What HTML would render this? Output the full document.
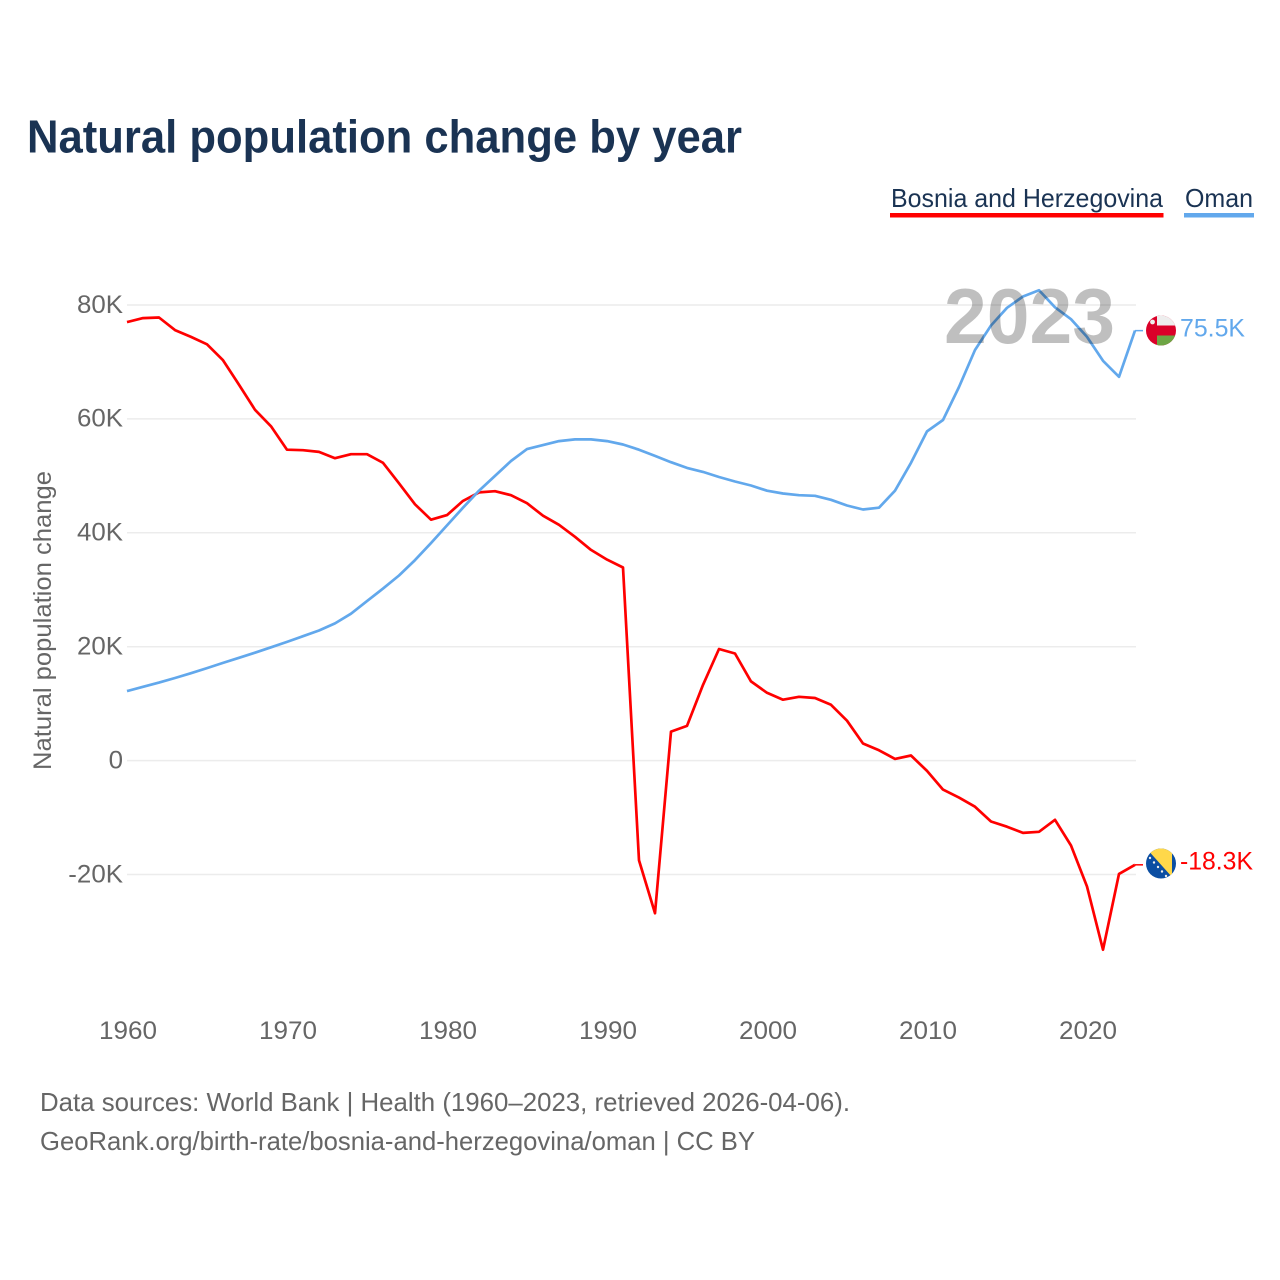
<!DOCTYPE html>
<html lang="en">
<head>
<meta charset="utf-8">
<title>Natural population change by year</title>
<style>
html,body{margin:0;padding:0;background:#fff;}
svg{display:block;font-family:"Liberation Sans",sans-serif;}
</style>
</head>
<body>
<svg id="chart" xmlns="http://www.w3.org/2000/svg" width="1280" height="1280" viewBox="0 0 1280 1280">
  <rect x="0" y="0" width="1280" height="1280" fill="#fff"/>
  <text x="27" y="152.5" font-size="46" font-weight="700" fill="#1a3353" textLength="715" lengthAdjust="spacingAndGlyphs">Natural population change by year</text>

  <g>
    <g>
      <text x="891" y="207" font-size="26" fill="#1a3353" textLength="272" lengthAdjust="spacingAndGlyphs">Bosnia and Herzegovina</text>
      <rect x="890" y="213" width="273.5" height="4.5" fill="#ff0000"/>
    </g>
    <g>
      <text x="1185" y="207" font-size="26" fill="#1a3353" textLength="68" lengthAdjust="spacingAndGlyphs">Oman</text>
      <rect x="1184" y="213" width="70" height="4.5" fill="#62a8ec"/>
    </g>
  </g>

  <g id="grid"></g>
  <g id="yticks"></g>
  <g id="xticks"></g>
  <text transform="translate(51,770) rotate(-90)" x="0" y="0" font-size="25" fill="#666666" textLength="299" lengthAdjust="spacingAndGlyphs">Natural population change</text>
  <g id="series"></g>
  <text x="944" y="343" font-size="78" font-weight="700" fill="#000000" fill-opacity="0.25" textLength="171" lengthAdjust="spacingAndGlyphs">2023</text>

  <g>
    <clipPath id="clip-oman"><circle cx="1161" cy="330.5" r="15"/></clipPath>
    <g clip-path="url(#clip-oman)">
      <rect x="1146" y="315" width="30" height="31" fill="#db0029"/>
      <rect x="1157" y="315" width="19" height="10.5" fill="#eeeeee"/>
      <rect x="1157" y="335.5" width="19" height="10.5" fill="#6da544"/>
      <circle cx="1152.5" cy="322" r="2.4" fill="#eeeeee"/>
    </g>
    <text x="1180" y="336.5" font-size="25" fill="#62a8ec" textLength="65" lengthAdjust="spacingAndGlyphs">75.5K</text>
  </g>
  <g>
    <clipPath id="clip-bosnia"><circle cx="1161" cy="863.5" r="15"/></clipPath>
    <g clip-path="url(#clip-bosnia)">
      <rect x="1146" y="848" width="30" height="31" fill="#0b4ea2"/>
      <polygon points="1146,848 1172,848 1172,877" fill="#ffd84a"/>
      <circle cx="1150" cy="858" r="1.2" fill="#eeeeee"/>
      <circle cx="1154" cy="862.5" r="1.2" fill="#eeeeee"/>
      <circle cx="1158" cy="867" r="1.2" fill="#eeeeee"/>
      <circle cx="1162" cy="871.5" r="1.2" fill="#eeeeee"/>
      <circle cx="1166" cy="876" r="1.2" fill="#eeeeee"/>
    </g>
    <text x="1180" y="869.5" font-size="25" fill="#ff0000" textLength="73" lengthAdjust="spacingAndGlyphs">-18.3K</text>
  </g>

  <text x="40" y="1111" font-size="26" fill="#666666" textLength="810" lengthAdjust="spacingAndGlyphs">Data sources: World Bank | Health (1960–2023, retrieved 2026-04-06).</text>
  <text x="40" y="1150" font-size="26" fill="#666666" textLength="715" lengthAdjust="spacingAndGlyphs">GeoRank.org/birth-rate/bosnia-and-herzegovina/oman | CC BY</text>
</svg>
<script>
const firstYear = 1960;
const lastYear = 2023;
const xTickYears = [1960, 1970, 1980, 1990, 2000, 2010, 2020];
const yTickValues = [80, 60, 40, 20, 0, -20];
const yTickLabels = ["80K", "60K", "40K", "20K", "0", "-20K"];
const bosniaValues = [77.0,77.7,77.8,75.6,74.4,73.1,70.3,66.0,61.6,58.7,54.6,54.5,54.2,53.1,53.8,53.8,52.3,48.7,45.0,42.3,43.1,45.6,47.1,47.3,46.6,45.2,43.0,41.4,39.3,37.0,35.3,33.9,-17.5,-26.8,5.1,6.1,13.3,19.6,18.8,13.9,11.9,10.7,11.2,11.0,9.8,7.0,3.0,1.8,0.3,0.9,-1.8,-5.1,-6.5,-8.1,-10.7,-11.6,-12.7,-12.5,-10.4,-14.9,-22.1,-33.2,-19.9,-18.3];
const omanValues = [12.2,12.95,13.7,14.5,15.35,16.25,17.15,18.05,18.95,19.9,20.85,21.85,22.85,24.1,25.8,28.0,30.2,32.5,35.2,38.2,41.3,44.4,47.4,50.0,52.6,54.7,55.4,56.1,56.4,56.4,56.1,55.5,54.6,53.5,52.4,51.4,50.7,49.8,49.0,48.3,47.4,46.9,46.6,46.5,45.8,44.8,44.1,44.4,47.4,52.3,57.8,59.8,65.6,72.1,76.4,79.5,81.5,82.6,79.6,77.5,74.4,70.2,67.4,75.5];

const SVG_NS = "http://www.w3.org/2000/svg";
function xScale(year) { return 127 + (year - 1960) * 16; }
function yScale(value) { return 760.6 - value * 5.695; }
function make(tag, parent) {
  const el = document.createElementNS(SVG_NS, tag);
  parent.appendChild(el);
  return el;
}

const gridGroup = document.getElementById("grid");
const yTickGroup = document.getElementById("yticks");
yTickValues.forEach(function (v, i) {
  const line = make("line", gridGroup);
  
  
  line.setAttribute("x1", xScale(firstYear));
  line.setAttribute("x2", xScale(lastYear) + 1);
  line.setAttribute("y1", yScale(v));
  line.setAttribute("y2", yScale(v));
  line.setAttribute("stroke", "#ececec");
  line.setAttribute("stroke-width", "1.5");
  const label = make("text", yTickGroup);
  
  
  label.setAttribute("x", 123);
  label.setAttribute("y", yScale(v) + 7.8);
  label.setAttribute("text-anchor", "end");
  label.setAttribute("font-size", "25");
  label.setAttribute("fill", "#666666");
  label.textContent = yTickLabels[i];
  label.setAttribute("lengthAdjust", "spacingAndGlyphs");
  label.setAttribute("textLength", (label.getComputedTextLength() * 1.035).toFixed(1));
});

const xTickGroup = document.getElementById("xticks");
xTickYears.forEach(function (year) {
  const label = make("text", xTickGroup);
  
  
  label.setAttribute("x", xScale(year) + 1);
  label.setAttribute("y", 1039);
  label.setAttribute("text-anchor", "middle");
  label.setAttribute("font-size", "25");
  label.setAttribute("fill", "#666666");
  label.textContent = String(year);
  label.setAttribute("lengthAdjust", "spacingAndGlyphs");
  label.setAttribute("textLength", (label.getComputedTextLength() * 1.043).toFixed(1));
});

function pathFor(values) {
  return values.map(function (v, i) {
    return (i ? "L" : "M") + xScale(firstYear + i).toFixed(1) + " " + yScale(v).toFixed(1);
  }).join(" ");
}
const seriesGroup = document.getElementById("series");

const bosniaLine = make("path", seriesGroup);


bosniaLine.setAttribute("d", pathFor(bosniaValues));
bosniaLine.setAttribute("fill", "none");
bosniaLine.setAttribute("stroke", "#ff0000");
bosniaLine.setAttribute("stroke-width", "2.7");
bosniaLine.setAttribute("stroke-linejoin", "round");

const omanLine = make("path", seriesGroup);


omanLine.setAttribute("d", pathFor(omanValues));
omanLine.setAttribute("fill", "none");
omanLine.setAttribute("stroke", "#62a8ec");
omanLine.setAttribute("stroke-width", "2.7");
omanLine.setAttribute("stroke-linejoin", "round");

const bosniaLink = make("line", seriesGroup);


bosniaLink.setAttribute("x1", xScale(lastYear));
bosniaLink.setAttribute("x2", 1143);
bosniaLink.setAttribute("y1", yScale(bosniaValues[bosniaValues.length - 1]));
bosniaLink.setAttribute("y2", yScale(bosniaValues[bosniaValues.length - 1]));
bosniaLink.setAttribute("stroke", "#ff0000");
bosniaLink.setAttribute("stroke-width", "1.5");

const omanLink = make("line", seriesGroup);


omanLink.setAttribute("x1", xScale(lastYear));
omanLink.setAttribute("x2", 1143);
omanLink.setAttribute("y1", yScale(omanValues[omanValues.length - 1]));
omanLink.setAttribute("y2", yScale(omanValues[omanValues.length - 1]));
omanLink.setAttribute("stroke", "#62a8ec");
omanLink.setAttribute("stroke-width", "1.5");
</script>
</body>
</html>
